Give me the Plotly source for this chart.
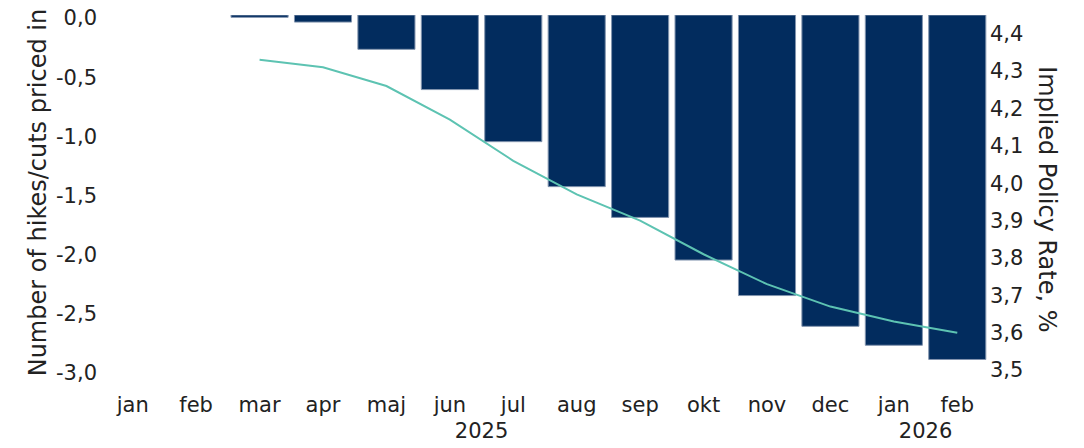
import plotly.graph_objects as go

years = ["2025"] * 12 + ["2026"] * 2
months = ["jan", "feb", "mar", "apr", "maj", "jun", "jul", "aug",
          "sep", "okt", "nov", "dec", "jan", "feb"]

# hikes/cuts priced in (left axis)
hikes_cuts = [None, None, -0.02, -0.06, -0.29, -0.63, -1.07, -1.45,
              -1.71, -2.07, -2.37, -2.63, -2.79, -2.91]
# implied policy rate, % (right axis)
policy_rate = [None, None, 4.33, 4.31, 4.26, 4.17, 4.06, 3.97,
               3.90, 3.81, 3.73, 3.67, 3.63, 3.60]

left_ticks = [0, -0.5, -1.0, -1.5, -2.0, -2.5, -3.0]
left_labels = ["0,0", "-0,5", "-1,0", "-1,5", "-2,0", "-2,5", "-3,0"]

font = "DejaVu Sans"
x = [years, months]

fig = go.Figure()
fig.add_trace(go.Bar(
    x=x, y=hikes_cuts,
    marker=dict(color="#022C5E", line=dict(color="#8294AE", width=1)),
    name="Hikes/cuts",
))
fig.add_trace(go.Scatter(
    x=x, y=policy_rate, yaxis="y2",
    mode="lines", line=dict(color="#5DC3B2", width=2),
    name="Policy rate",
))

# page body has an 8px margin, so the figure is nudged up/left by that much.
# the y domains stop above the bottom so the month/year labels sit lower.
y_dom = [0.053, 1]
fig.update_layout(
    width=1084, height=448,
    margin=dict(l=93, r=103, t=7, b=66, autoexpand=False),
    paper_bgcolor="white", plot_bgcolor="white",
    separators=", ",
    showlegend=False,
    bargap=0.1,
    font=dict(family=font, size=21, color="#222222"),
    xaxis=dict(
        type="multicategory", showdividers=False, showgrid=False,
        showline=False, zeroline=False, automargin=False,
        anchor="free", position=0,
    ),
    yaxis=dict(
        domain=y_dom,
        range=[-3, 0], tickvals=left_ticks, ticktext=left_labels,
        showgrid=False, zeroline=False, showline=False, automargin=False,
        ticklabeloverflow="allow", ticklabelstandoff=3, ticklabelshift=3,
        title=dict(text="Number of hikes/cuts priced in", standoff=2,
                   font=dict(size=24)),
    ),
    yaxis2=dict(
        domain=y_dom,
        overlaying="y", side="right",
        range=[3.5, 4.45], dtick=0.1, tickformat=".1f",
        showgrid=False, zeroline=False, showline=False, automargin=False,
        ticklabeloverflow="allow",
    ),
    annotations=[
        dict(text="Implied Policy Rate, %", textangle=90,
             xref="paper", yref="paper", x=1.066, y=0.51,
             xanchor="center", yanchor="middle", showarrow=False,
             font=dict(size=24)),
    ],
)

fig.write_html("out.html")
